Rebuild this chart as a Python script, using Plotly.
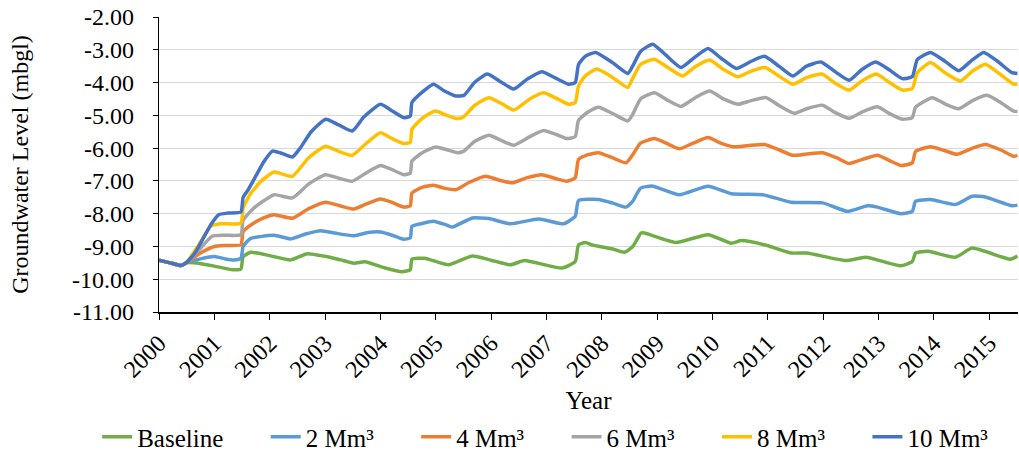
import plotly.graph_objects as go

# ---- data (decimal years, groundwater level in mbgl) ----
start_years = [2000.0, 2000.2, 2000.40, 2000.49]
start_vals = [-9.42, -9.50, -9.58, -9.50]

baseline_years = [2000.63, 2001.0, 2001.33, 2001.48, 2001.52, 2001.66, 2002.0, 2002.38, 2002.68, 2003.0,
                  2003.28, 2003.52, 2003.72, 2004.07, 2004.39, 2004.54, 2004.57, 2004.8, 2005.23, 2005.66,
                  2006.0, 2006.35, 2006.6, 2007.28, 2007.52, 2007.58, 2007.7, 2007.84, 2008.2, 2008.41,
                  2008.56, 2008.71, 2008.77, 2009.34, 2009.92, 2010.34, 2010.52, 2010.94, 2011.42, 2011.7,
                  2012.41, 2012.77, 2013.40, 2013.61, 2013.67, 2013.9, 2014.39, 2014.69, 2015.38, 2015.51]
baseline_vals = [-9.50, -9.60, -9.71, -9.69, -9.31, -9.18, -9.28, -9.41, -9.22, -9.30,
                 -9.41, -9.51, -9.47, -9.65, -9.77, -9.71, -9.39, -9.36, -9.56, -9.29,
                 -9.42, -9.56, -9.43, -9.66, -9.46, -8.95, -8.88, -8.96, -9.08, -9.18,
                 -9.00, -8.59, -8.59, -8.88, -8.64, -8.90, -8.82, -8.95, -9.20, -9.20,
                 -9.43, -9.33, -9.59, -9.46, -9.20, -9.15, -9.33, -9.05, -9.39, -9.29]

m2_years = [2000.75, 2001.0, 2001.2, 2001.35, 2001.48, 2001.52, 2001.65, 2002.08, 2002.38, 2002.65,
            2002.92, 2003.2, 2003.52, 2003.8, 2004.0, 2004.2, 2004.42, 2004.54, 2004.57, 2004.75,
            2004.96, 2005.2, 2005.3, 2005.66, 2005.96, 2006.35, 2006.86, 2007.31, 2007.52, 2007.58,
            2007.94, 2008.2, 2008.44, 2008.56, 2008.7, 2008.92, 2009.40, 2009.92, 2010.34, 2010.91,
            2011.42, 2011.99, 2012.44, 2012.8, 2012.98, 2013.40, 2013.61, 2013.67, 2013.94, 2014.39,
            2014.69, 2014.93, 2015.41, 2015.51]
m2_vals = [-9.38, -9.31, -9.38, -9.41, -9.36, -9.00, -8.76, -8.66, -8.77, -8.62,
           -8.52, -8.60, -8.67, -8.57, -8.56, -8.65, -8.78, -8.74, -8.39, -8.30,
           -8.23, -8.35, -8.41, -8.13, -8.15, -8.31, -8.16, -8.31, -8.08, -7.60,
           -7.57, -7.68, -7.80, -7.62, -7.22, -7.16, -7.42, -7.16, -7.39, -7.42,
           -7.65, -7.67, -7.93, -7.76, -7.80, -8.00, -7.93, -7.62, -7.57, -7.72,
           -7.47, -7.49, -7.76, -7.74]

m4_years = [2000.75, 2001.0, 2001.2, 2001.48, 2001.52, 2001.7, 2001.9, 2002.08, 2002.41, 2002.7,
            2003.01, 2003.25, 2003.52, 2003.75, 2004.0, 2004.2, 2004.42, 2004.54, 2004.57, 2004.75,
            2004.96, 2005.15, 2005.36, 2005.6, 2005.90, 2006.15, 2006.38, 2006.65, 2006.92, 2007.15,
            2007.37, 2007.52, 2007.58, 2007.75, 2007.94, 2008.2, 2008.44, 2008.56, 2008.7, 2008.95,
            2009.2, 2009.40, 2009.65, 2009.92, 2010.15, 2010.37, 2010.65, 2010.94, 2011.2, 2011.45,
            2011.7, 2011.99, 2012.25, 2012.47, 2012.7, 2012.98, 2013.2, 2013.40, 2013.61, 2013.67,
            2013.94, 2014.2, 2014.42, 2014.7, 2014.93, 2015.2, 2015.44, 2015.51]
m4_vals = [-9.20, -9.00, -8.97, -8.95, -8.55, -8.30, -8.12, -8.03, -8.14, -7.85,
           -7.65, -7.75, -7.86, -7.70, -7.55, -7.65, -7.80, -7.76, -7.37, -7.20,
           -7.13, -7.22, -7.27, -7.05, -6.86, -6.98, -7.06, -6.90, -6.81, -6.92,
           -7.01, -6.91, -6.35, -6.20, -6.14, -6.30, -6.45, -6.20, -5.85, -5.71,
           -5.88, -6.02, -5.85, -5.68, -5.85, -5.96, -5.92, -5.89, -6.05, -6.22,
           -6.18, -6.14, -6.30, -6.47, -6.35, -6.22, -6.38, -6.53, -6.45, -6.10,
           -5.96, -6.08, -6.19, -6.00, -5.89, -6.05, -6.25, -6.22]

m6_years = [2000.7, 2000.96, 2001.2, 2001.48, 2001.52, 2001.7, 2001.9, 2002.08, 2002.41, 2002.7,
            2003.01, 2003.25, 2003.49, 2003.75, 2004.0, 2004.2, 2004.42, 2004.54, 2004.57, 2004.75,
            2004.99, 2005.2, 2005.39, 2005.5, 2005.7, 2005.96, 2006.2, 2006.41, 2006.7, 2006.95,
            2007.2, 2007.37, 2007.52, 2007.58, 2007.75, 2007.94, 2008.2, 2008.47, 2008.56, 2008.7,
            2008.95, 2009.2, 2009.43, 2009.7, 2009.95, 2010.2, 2010.46, 2010.7, 2010.97, 2011.2,
            2011.48, 2011.7, 2011.99, 2012.2, 2012.47, 2012.7, 2012.98, 2013.2, 2013.43, 2013.61,
            2013.67, 2013.97, 2014.2, 2014.45, 2014.7, 2014.96, 2015.2, 2015.44, 2015.51]
m6_vals = [-9.15, -8.69, -8.66, -8.64, -8.20, -7.85, -7.60, -7.42, -7.52, -7.10,
           -6.81, -6.92, -7.01, -6.75, -6.53, -6.65, -6.81, -6.76, -6.40, -6.15,
           -5.97, -6.05, -6.14, -6.10, -5.80, -5.61, -5.78, -5.91, -5.65, -5.46,
           -5.60, -5.71, -5.65, -5.15, -4.90, -4.75, -4.95, -5.17, -4.97, -4.50,
           -4.31, -4.55, -4.73, -4.45, -4.26, -4.50, -4.66, -4.55, -4.46, -4.70,
           -4.94, -4.80, -4.69, -4.90, -5.09, -4.90, -4.74, -4.95, -5.12, -5.07,
           -4.75, -4.46, -4.65, -4.80, -4.55, -4.39, -4.60, -4.87, -4.88]

m8_years = [2000.7, 2000.93, 2001.1, 2001.48, 2001.52, 2001.65, 2001.85, 2002.08, 2002.41, 2002.7,
            2003.01, 2003.25, 2003.49, 2003.75, 2004.0, 2004.2, 2004.42, 2004.54, 2004.57, 2004.75,
            2004.99, 2005.2, 2005.39, 2005.5, 2005.7, 2005.96, 2006.2, 2006.41, 2006.7, 2006.95,
            2007.2, 2007.40, 2007.52, 2007.58, 2007.7, 2007.91, 2008.2, 2008.47, 2008.55, 2008.7,
            2008.95, 2009.2, 2009.46, 2009.7, 2009.95, 2010.2, 2010.46, 2010.7, 2010.95, 2011.2,
            2011.45, 2011.7, 2011.98, 2012.2, 2012.47, 2012.7, 2012.96, 2013.2, 2013.43, 2013.61,
            2013.70, 2013.94, 2014.2, 2014.48, 2014.7, 2014.93, 2015.2, 2015.44, 2015.51]
m8_vals = [-9.00, -8.39, -8.31, -8.29, -7.83, -7.40, -7.00, -6.73, -6.86, -6.30,
           -5.94, -6.10, -6.22, -5.85, -5.53, -5.70, -5.86, -5.82, -5.43, -5.10,
           -4.87, -5.00, -5.10, -5.05, -4.70, -4.46, -4.65, -4.84, -4.50, -4.31,
           -4.50, -4.66, -4.61, -4.10, -3.80, -3.59, -3.85, -4.15, -3.90, -3.45,
           -3.29, -3.55, -3.80, -3.50, -3.31, -3.60, -3.82, -3.65, -3.54, -3.80,
           -4.05, -3.85, -3.74, -4.00, -4.23, -3.95, -3.74, -4.00, -4.23, -4.18,
           -3.70, -3.39, -3.70, -3.95, -3.65, -3.44, -3.75, -4.05, -4.05]

m10_years = [2000.65, 2000.80, 2000.95, 2001.08, 2001.25, 2001.48, 2001.52, 2001.60, 2001.75, 2001.90,
             2002.05, 2002.2, 2002.41, 2002.55, 2002.75, 2003.01, 2003.2, 2003.49, 2003.7, 2004.0,
             2004.2, 2004.42, 2004.54, 2004.57, 2004.75, 2004.96, 2005.15, 2005.36, 2005.51, 2005.7,
             2005.93, 2006.15, 2006.41, 2006.65, 2006.92, 2007.15, 2007.40, 2007.52, 2007.58, 2007.7,
             2007.89, 2008.2, 2008.47, 2008.56, 2008.7, 2008.92, 2009.15, 2009.43, 2009.7, 2009.92,
             2010.15, 2010.43, 2010.7, 2010.94, 2011.2, 2011.45, 2011.7, 2011.96, 2012.2, 2012.47,
             2012.7, 2012.95, 2013.2, 2013.43, 2013.61, 2013.70, 2013.94, 2014.2, 2014.45, 2014.7,
             2014.90, 2015.15, 2015.41, 2015.51]
m10_vals = [-9.20, -8.75, -8.30, -8.03, -7.98, -7.95, -7.50, -7.30, -6.85, -6.40,
            -6.09, -6.15, -6.27, -6.00, -5.50, -5.12, -5.25, -5.48, -5.05, -4.66,
            -4.85, -5.07, -5.02, -4.61, -4.30, -4.05, -4.25, -4.41, -4.39, -4.00,
            -3.74, -3.95, -4.20, -3.90, -3.67, -3.85, -4.05, -4.00, -3.45, -3.20,
            -3.08, -3.40, -3.72, -3.49, -3.05, -2.83, -3.15, -3.54, -3.20, -2.96,
            -3.25, -3.57, -3.35, -3.20, -3.50, -3.80, -3.50, -3.37, -3.65, -3.93,
            -3.60, -3.37, -3.62, -3.88, -3.82, -3.30, -3.08, -3.35, -3.64, -3.30,
            -3.08, -3.35, -3.70, -3.72]

series_names = ["Baseline", "2 Mm³", "4 Mm³", "6 Mm³", "8 Mm³", "10 Mm³"]
series_years = [baseline_years, m2_years, m4_years, m6_years, m8_years, m10_years]
series_vals = [baseline_vals, m2_vals, m4_vals, m6_vals, m8_vals, m10_vals]
series_colors = ["#70AD47", "#5B9BD5", "#ED7D31", "#A5A5A5", "#FFC000", "#4472C4"]

year_ticks = list(range(2000, 2016))
y_ticks = [-11, -10, -9, -8, -7, -6, -5, -4, -3, -2]

FONT = "Liberation Serif"
PAD = "\u00a0" * 6  # spacing after each legend entry (except the last)

fig = go.Figure()
n_series = len(series_names)
for i, (name, xs, ys, col) in enumerate(zip(series_names, series_years, series_vals, series_colors)):
    label = name + (PAD if i < n_series - 1 else "")
    fig.add_trace(go.Scatter(
        x=start_years + xs, y=start_vals + ys, name=label, mode="lines",
        line=dict(color=col, width=3.5, shape="spline", smoothing=0.5), hoverinfo="skip",
    ))

fig.update_layout(
    width=1019, height=459,
    margin=dict(l=159, r=1, t=17, b=147, autoexpand=False),
    paper_bgcolor="white", plot_bgcolor="white",
    font=dict(family=FONT, size=24, color="#000000"),
    showlegend=True,
    legend=dict(orientation="h", x=-0.072, xanchor="left", y=-0.424, yanchor="middle",
                font=dict(family=FONT, size=25), itemwidth=30, bgcolor="rgba(0,0,0,0)"),
)
fig.update_xaxes(
    automargin=False,
    range=[2000, 2015.52], tickmode="array", tickvals=year_ticks,
    ticktext=[str(y) for y in year_ticks], tickangle=-45,
    showgrid=False, zeroline=False, showline=True, linecolor="#000000", linewidth=1.5,
    ticks="outside", ticklen=6, tickwidth=1.3, tickcolor="#000000",
    tickfont=dict(family=FONT, size=24),
    title=dict(text="Year", font=dict(family=FONT, size=25), standoff=10),
)
fig.update_yaxes(
    automargin=False,
    range=[-11, -2], tickmode="array", tickvals=y_ticks,
    ticktext=[f"{v:.2f}" for v in y_ticks],
    showgrid=True, gridcolor="#D9D9D9", gridwidth=1.2, zeroline=False,
    showline=True, linecolor="#000000", linewidth=1.3,
    ticks="outside", ticklen=5, tickwidth=1.3, tickcolor="#000000",
    tickfont=dict(family=FONT, size=24), ticklabelstandoff=14,
    title=dict(text="Groundwater Level (mbgl)", font=dict(family=FONT, size=24), standoff=36),
)

fig.write_html("out.html", config={"displayModeBar": False},
               post_script="document.body.style.margin='0';document.body.style.overflow='hidden';")
